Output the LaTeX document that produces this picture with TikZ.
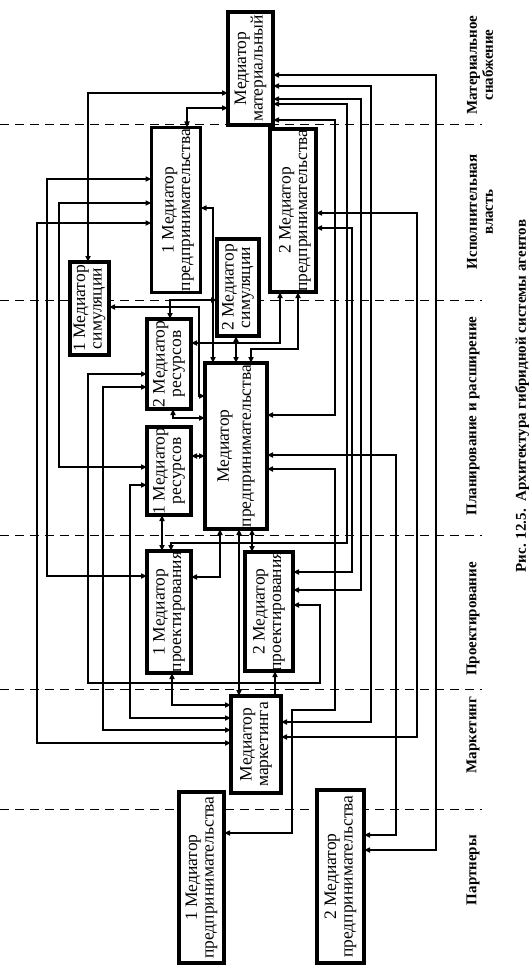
\documentclass[tikz,border=0pt]{standalone}
\usepackage{fontspec}
\setmainfont{Liberation Serif}
\usetikzlibrary{arrows.meta}
\begin{document}
\begin{tikzpicture}[x=1pt,y=-1pt,
  >={Triangle[length=6pt,width=5pt]},
  box/.style={draw, fill=white, line width=3.2pt, inner sep=0pt, outer sep=0pt},
  btext/.style={rotate=90, align=center, inner sep=0pt, font=\fontsize{17.5}{16.5}\selectfont},
  conn/.style={line width=1.8pt, <->},
  oneway/.style={line width=1.8pt, ->},
  lane/.style={dash pattern=on 9pt off 6pt, line width=1pt},
  lbl/.style={rotate=90, align=center, inner sep=0pt, font=\bfseries\fontsize{15}{16}\selectfont},
  captext/.style={rotate=90, inner sep=0pt, font=\bfseries\fontsize{15}{17}\selectfont},
]
\useasboundingbox[fill=white] (0,0) rectangle (532,971);

% lane separators
\foreach \yy in {125,300,535,689,809} \draw[lane] (0,\yy) -- (482,\yy);

% boxes
\node[box, minimum width=45pt, minimum height=113pt] (MM) at (250.5,68.5) {};
\node[box, minimum width=49pt, minimum height=165pt] (P1) at (176,210) {};
\node[box, minimum width=46pt, minimum height=163pt] (P2) at (293,210.5) {};
\node[box, minimum width=39pt, minimum height=93pt] (S1) at (89.5,308.5) {};
\node[box, minimum width=42pt, minimum height=97pt] (S2) at (238,287.5) {};
\node[box, minimum width=44pt, minimum height=90pt] (R2) at (169,364) {};
\node[box, minimum width=44pt, minimum height=88pt] (R1) at (169,471) {};
\node[box, minimum width=62pt, minimum height=166pt] (P0) at (236,446) {};
\node[box, minimum width=44pt, minimum height=122pt] (D1) at (169,612) {};
\node[box, minimum width=48pt, minimum height=119pt] (D2) at (269,611.5) {};
\node[box, minimum width=50pt, minimum height=97pt] (MK) at (256,744.5) {};
\node[box, minimum width=45pt, minimum height=171pt] (Q1) at (201.5,877.5) {};
\node[box, minimum width=47pt, minimum height=173pt] (Q2) at (340.5,876.5) {};

% box texts
\node[btext] (MMt) at (MM.center) {Медиатор\\материальный};
\node[btext] (P1t) at ([xshift=2pt]P1.center) {1 Медиатор\\предпринимательства};
\node[btext] (P2t) at ([xshift=2pt]P2.center) {2 Медиатор\\предпринимательства};
\node[btext] (S1t) at (S1.center) {1 Медиатор\\симуляции};
\node[btext] (S2t) at (S2.center) {2 Медиатор\\симуляции};
\node[btext] (R2t) at (R2.center) {2 Медиатор\\ресурсов};
\node[btext] (R1t) at (R1.center) {1 Медиатор\\ресурсов};
\node[btext, font=\fontsize{17.5}{22}\selectfont] (P0t) at (P0.center) {Медиатор\\предпринимательства};
\node[btext] (D1t) at (D1.center) {1 Медиатор\\проектирования};
\node[btext] (D2t) at (D2.center) {2 Медиатор\\проектирования};
\node[btext] (MKt) at (MK.center) {Медиатор\\маркетинга};
\node[btext] (Q1t) at (Q1.center) {1 Медиатор\\предпринимательства};
\node[btext] (Q2t) at (Q2.center) {2 Медиатор\\предпринимательства};

% connectors
\draw[conn] (MM.west |- 0,93) -- (88,93) -- (S1.north -| 88,0);
\draw[conn] (MM.west |- 0,108) -- (187,108) -- (P1.north -| 187,0);
\draw[conn] (P1.west |- 0,179) -- (47,179) -- (47,576) -- (D1.west |- 0,576);
\draw[conn] (P1.west |- 0,203) -- (59,203) -- (59,467) -- (R1.west |- 0,467);
\draw[conn] (P1.west |- 0,223) -- (37,223) -- (37,743) -- (MK.west |- 0,743);
\draw[conn] (P1.east |- 0,208) -- (213,208) -- (P0.north -| 213,0);
\draw[conn] (R2.north -| 170,0) -- (170,300) -- (S2.west |- 0,300);
\draw[conn] (S2.south -| 236,0) -- (P0.north -| 236,0);
\draw[conn] (R2.east |- 0,343) -- (280,343) -- (P2.south -| 280,0);
\draw[conn] (P2.south -| 298,0) -- (298,349) -- (251,349) -- (P0.north -| 251,0);
\draw[conn] (S1.east |- 0,307) -- (199,307) -- (199,396) -- (P0.west |- 0,396);
\draw[conn] (R2.south -| 173,0) -- (173,418) -- (P0.west |- 0,418);
\draw[conn] (R1.east |- 0,456) -- (P0.west |- 0,456);
\draw[conn] (R1.south -| 162,0) -- (D1.north -| 162,0);
\draw[conn] (MM.east |- 0,104) -- (347,104) -- (347,543) -- (171,543) -- (D1.north -| 171,0);
\draw[conn] (MM.east |- 0,99) -- (361,99) -- (361,590) -- (D2.east |- 0,590);
\draw[conn] (P2.east |- 0,228) -- (352,228) -- (352,572) -- (D2.east |- 0,572);
\draw[conn] (MM.east |- 0,86) -- (371,86) -- (371,722) -- (MK.east |- 0,722);
\draw[conn] (P2.east |- 0,213) -- (417,213) -- (417,737) -- (MK.east |- 0,737);
\draw[conn] (MM.east |- 0,75) -- (436,75) -- (436,850) -- (Q2.east |- 0,850);
\draw[conn] (MM.east |- 0,120) -- (335,120) -- (335,415) -- (P0.east |- 0,415);
\draw[conn] (P0.east |- 0,455) -- (396,455) -- (396,835) -- (Q2.east |- 0,835);
\draw[conn] (P0.east |- 0,469) -- (335,469) -- (335,710) -- (292,710) -- (292,833) -- (Q1.east |- 0,833);
\draw[conn] (P0.south -| 220,0) -- (220,577) -- (D1.east |- 0,577);
\draw[conn] (P0.south -| 239,0) -- (MK.north -| 239,0);
\draw[conn] (P0.south -| 252,0) -- (D2.north -| 252,0);
\draw[oneway] (MK.north -| 275,0) -- (D2.south -| 275,0);
\draw[conn] (D1.south -| 172,0) -- (172,705) -- (MK.west |- 0,705);
\draw[conn] (R1.west |- 0,485) -- (130,485) -- (130,718) -- (MK.west |- 0,718);
\draw[conn] (R2.west |- 0,387) -- (103,387) -- (103,730) -- (MK.west |- 0,730);
\draw[conn] (R2.west |- 0,374) -- (88,374) -- (88,683) -- (320,683) -- (320,605) -- (D2.east |- 0,605);

% lane labels
\node[lbl] (L1) at (480,65) {Материальное\\снабжение};
\node[lbl] (L2) at (480,212) {Исполнительная\\власть};
\node[lbl] (L3) at (473,416) {Планирование и расширение};
\node[lbl] (L4) at (473,619) {Проектирование};
\node[lbl] (L5) at (473,735) {Маркетинг};
\node[lbl] (L6) at (473,870) {Партнеры};

% caption
\node[captext] (CAP) at (522,396) {Рис. 12.5.\ \ Архитектура гибридной системы агентов};
\end{tikzpicture}
\end{document}
